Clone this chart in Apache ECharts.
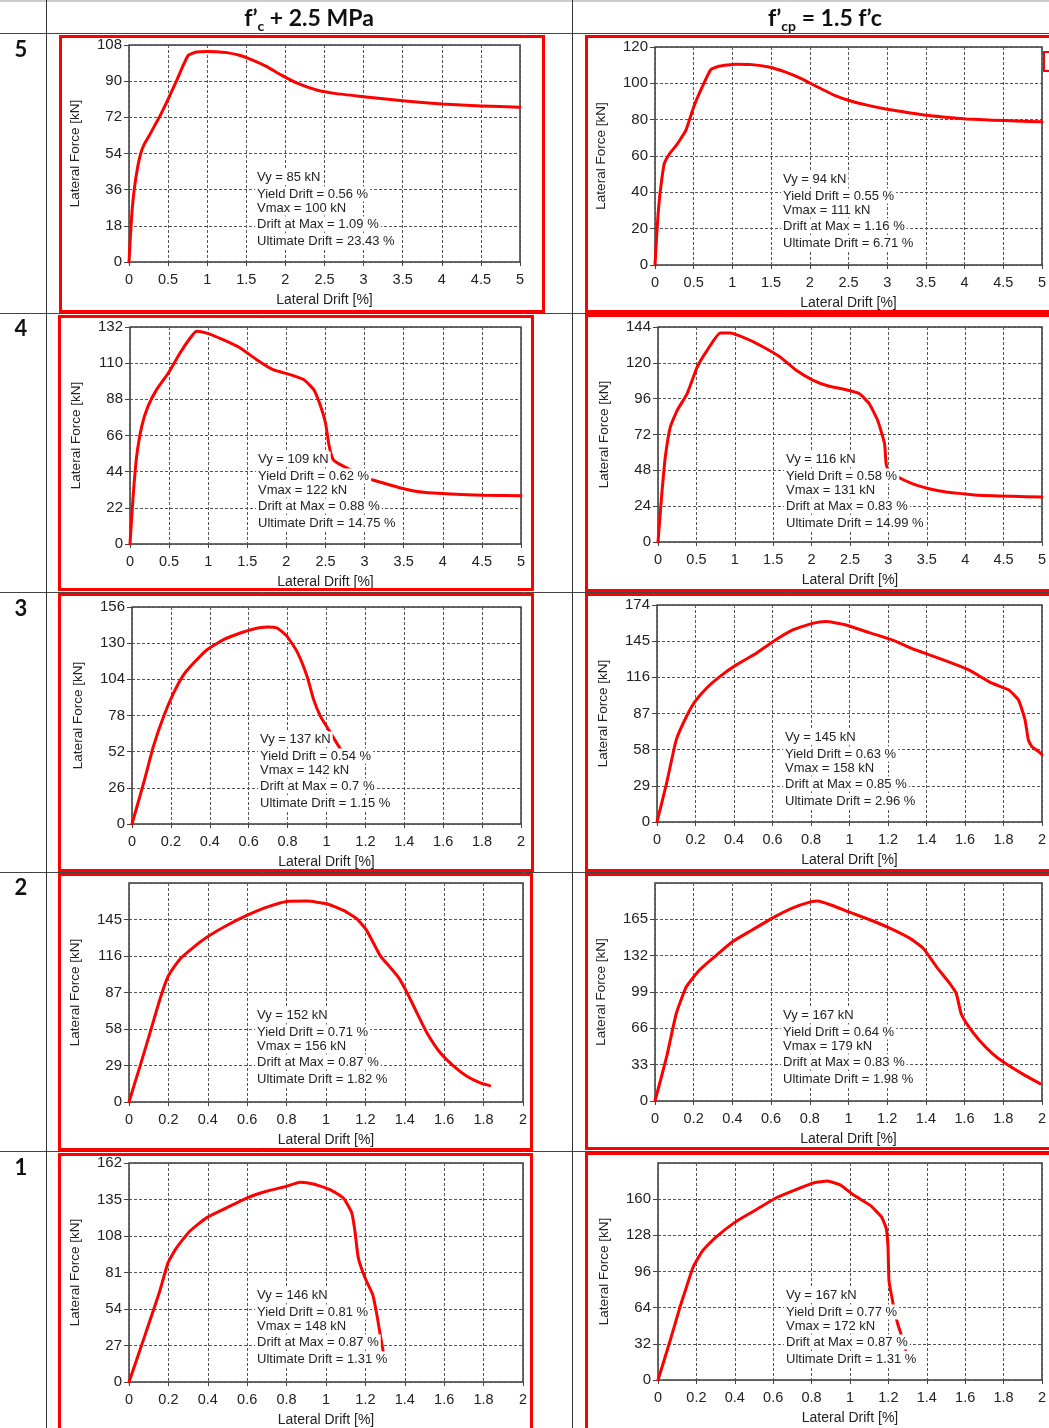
<!DOCTYPE html>
<html><head><meta charset="utf-8">
<script src="https://cdn.jsdelivr.net/npm/echarts@6.0.0/dist/echarts.min.js"></script>
<style>html,body{margin:0;padding:0;background:#fff}#c{width:1049px;height:1428px}</style>
</head><body><div id="c"></div>
<script>
// ---------- DATA ----------
const colTitles = ["f’c + 2.5 MPa", "f’cp = 1.5 f’c"];
const rowLabels = ["5", "4", "3", "2", "1"];

// Row 5
const drift5a = [0, 0.02, 0.04, 0.07, 0.11, 0.15, 0.2, 0.26, 0.33, 0.4, 0.5, 0.6, 0.7, 0.76, 0.86, 1.0, 1.12, 1.25, 1.4, 1.55, 1.75, 1.95, 2.15, 2.4, 2.65, 3.0, 3.5, 4.0, 4.5, 5.0];
const force5a = [0, 14, 26, 37, 47, 54, 59, 63, 68, 73, 81, 89.5, 98.5, 103, 104.5, 104.8, 104.7, 104.2, 103, 101, 97.5, 93, 89, 85.6, 83.8, 82.3, 80.2, 78.6, 77.7, 77];
const drift5b = [0, 0.02, 0.04, 0.06, 0.09, 0.12, 0.19, 0.26, 0.32, 0.4, 0.5, 0.61, 0.72, 0.83, 1.04, 1.25, 1.47, 1.68, 1.89, 2.1, 2.32, 2.53, 2.74, 3.0, 3.3, 3.51, 3.72, 4.02, 4.36, 4.66, 5.0];
const force5b = [0, 15, 28, 37.6, 48, 55.9, 61.4, 65, 68.7, 74.2, 87, 98, 107.5, 109.4, 110.5, 110.3, 109, 106.3, 102.6, 98, 93.4, 90.3, 88, 85.7, 83.7, 82.4, 81.5, 80.4, 79.7, 79.3, 78.8];
// Row 4
const drift4a = [0, 0.04, 0.085, 0.15, 0.23, 0.34, 0.49, 0.64, 0.77, 0.85, 0.98, 1.19, 1.41, 1.62, 1.83, 2.05, 2.22, 2.35, 2.43, 2.5, 2.54, 2.57, 2.6, 2.69, 2.85, 3.0, 3.07, 3.24, 3.46, 3.67, 3.88, 4.1, 4.52, 5.0];
const force4a = [0, 29, 53.3, 71.6, 83.7, 93.9, 104, 116.2, 125.3, 129.4, 128.3, 124.3, 119.2, 112.1, 106, 103, 100, 93.9, 84.8, 73.6, 61.4, 55, 51.3, 48.3, 44.5, 41.5, 39.5, 37.1, 34.1, 32, 31, 30.4, 29.6, 29.4];
const drift4b = [0, 0.05, 0.095, 0.16, 0.25, 0.38, 0.51, 0.64, 0.81, 0.94, 1.15, 1.37, 1.59, 1.8, 2.02, 2.23, 2.45, 2.62, 2.75, 2.86, 2.95, 2.97, 3.0, 3.08, 3.31, 3.53, 3.75, 3.96, 4.18, 4.61, 5.0];
const force4b = [0, 32.4, 56.9, 77, 88.2, 99.4, 117.2, 128.4, 140, 140, 136.2, 130.6, 123.9, 115, 108.3, 104.3, 102, 99.4, 92.7, 81.5, 65.9, 52.5, 48, 44.7, 39.1, 35.7, 33.5, 32.4, 31.3, 30.6, 30.1];
// Row 3
const drift3a = [0, 0.06, 0.11, 0.163, 0.214, 0.266, 0.317, 0.386, 0.471, 0.557, 0.626, 0.694, 0.746, 0.797, 0.848, 0.9, 0.934, 0.969, 1.011, 1.037, 1.063, 1.07];
const force3a = [0, 29.5, 55.8, 77.4, 94.2, 107.4, 115.7, 125.3, 132.5, 137.3, 140.2, 141.6, 140.9, 134.9, 124.1, 106.2, 89.4, 77.4, 67.8, 61.8, 55.8, 54.5];
const drift3b = [0, 0.05, 0.1, 0.153, 0.197, 0.257, 0.326, 0.412, 0.516, 0.602, 0.705, 0.809, 0.878, 0.981, 1.102, 1.222, 1.343, 1.464, 1.619, 1.74, 1.826, 1.878, 1.912, 1.929, 1.947, 1.981, 2.0];
const force3b = [0, 31.2, 65.9, 84.6, 96.6, 107.3, 116.6, 126, 135.3, 144.6, 154, 159.3, 160.7, 158, 151.9, 146, 138, 131.3, 122, 111.3, 106, 97.9, 81.9, 65.9, 60.6, 56.6, 54];
// Row 2
const drift2a = [0, 0.056, 0.107, 0.157, 0.2, 0.259, 0.327, 0.395, 0.496, 0.598, 0.7, 0.801, 0.903, 1.004, 1.089, 1.157, 1.207, 1.275, 1.326, 1.368, 1.411, 1.461, 1.512, 1.58, 1.648, 1.715, 1.783, 1.831];
const force2a = [0, 28.5, 55.1, 81.7, 100.3, 113.6, 122.9, 130.9, 140.2, 148.2, 154.8, 159.3, 159.6, 157.5, 152.2, 145.5, 136.2, 116.3, 106.9, 99, 87, 71, 55.1, 39.1, 28.5, 20.5, 15.2, 13];
const drift2b = [0, 0.06, 0.11, 0.162, 0.23, 0.298, 0.4, 0.502, 0.604, 0.706, 0.808, 0.842, 0.91, 1.012, 1.114, 1.216, 1.318, 1.387, 1.455, 1.523, 1.557, 1.582, 1.616, 1.676, 1.744, 1.812, 1.897, 1.99];
const force2b = [0, 40, 79.5, 103.7, 118.9, 129.5, 144.7, 155.3, 165.9, 175, 181.1, 181.7, 178, 171.1, 164.4, 156.8, 147.7, 138.6, 121.9, 106.8, 97.7, 79.5, 68.9, 55.2, 43.1, 34, 24.9, 15.8];
// Row 1
const drift1a = [0, 0.054, 0.105, 0.156, 0.198, 0.241, 0.308, 0.393, 0.495, 0.597, 0.698, 0.8, 0.868, 0.936, 1.02, 1.088, 1.131, 1.147, 1.164, 1.198, 1.237, 1.258, 1.275, 1.29];
const force1a = [0, 22.9, 45, 67.2, 88.1, 99.2, 111.5, 121.4, 128.8, 136.1, 141.1, 144.8, 147.7, 146.5, 142.3, 136.1, 125.1, 111.5, 91.8, 77.1, 64.7, 50, 35.2, 23];
const drift1b = [0, 0.063, 0.114, 0.148, 0.183, 0.234, 0.302, 0.404, 0.507, 0.609, 0.712, 0.814, 0.882, 0.951, 1.019, 1.104, 1.164, 1.189, 1.198, 1.203, 1.215, 1.232, 1.249, 1.266, 1.29];
const force1b = [0, 34.7, 64.3, 82.1, 99.9, 114.7, 126.5, 139.9, 150.2, 160.6, 168, 174.5, 176, 172.4, 163.6, 154.7, 144.3, 133.9, 117.6, 88, 76.1, 61.3, 49.5, 40.6, 27];

// Panel order: 5a,5b,4a,4b,3a,3b,2a,2b,1a,1b
const drifts = [drift5a, drift5b, drift4a, drift4b, drift3a, drift3b, drift2a, drift2b, drift1a, drift1b];
const forces = [force5a, force5b, force4a, force4b, force3a, force3b, force2a, force2b, force1a, force1b];

// Annotated results
const vy         = [85, 94, 109, 116, 137, 145, 152, 167, 146, 167];
const yieldDrift = [0.56, 0.55, 0.62, 0.58, 0.54, 0.63, 0.71, 0.64, 0.81, 0.77];
const vmax       = [100, 111, 122, 131, 142, 158, 156, 179, 148, 172];
const driftAtMax = [1.09, 1.16, 0.88, 0.83, 0.7, 0.85, 0.87, 0.83, 0.87, 0.87];
const ultDrift   = [23.43, 6.71, 14.75, 14.99, 1.15, 2.96, 1.82, 1.98, 1.31, 1.31];

// Axis scales (tick labels)
const yMax      = [108, 120, 132, 144, 156, 174, 174, 198, 162, 192];
const yStep     = [18, 20, 22, 24, 26, 29, 29, 33, 27, 32];
const yHideMax  = [false, false, false, false, false, false, true, true, false, true];
const xMax      = [5, 5, 5, 5, 2, 2, 2, 2, 2, 2];
const xStep     = [0.5, 0.5, 0.5, 0.5, 0.2, 0.2, 0.2, 0.2, 0.2, 0.2];

// ---------- LAYOUT (positions only) ----------
const plotBox = [
  [129, 45, 391, 217], [655, 47, 392, 218],
  [130, 327, 391, 217], [658, 327, 385, 215],
  [132, 607, 389, 217], [657, 605, 390, 217],
  [129, 883, 394, 219], [655, 883, 392, 218],
  [129, 1163, 394, 219], [658, 1163, 387, 217]
];
const redBox = [
  [59, 35, 545, 313], [585, 35, 1062, 313],
  [58, 315, 534, 591], [585, 314, 1062, 592],
  [58, 593, 534, 872], [585, 593, 1062, 872],
  [58, 873, 533, 1151], [585, 873, 1062, 1150],
  [58, 1153, 533, 1434], [585, 1152, 1062, 1434]
];
const noteDy = [132, 149, 163, 179, 196];

const FONT = '"Liberation Sans", Arial, sans-serif';
const grids = [], xAxes = [], yAxes = [], series = [], graphics = [];

// table lines
const tl = (x1, y1, x2, y2, c) => graphics.push({type: 'line', shape: {x1, y1, x2, y2}, style: {stroke: c || '#444', lineWidth: 1}, z: 1});
tl(0, 1, 1049, 1, '#999');
tl(0, 33.5, 1049, 33.5);
[313.5, 592.5, 872.5, 1151.5].forEach(y => tl(0, y, 1049, y));
tl(46.5, 0, 46.5, 1428, '#333');
tl(572.5, 0, 572.5, 1428, '#333');

// headers
const headerCenters = [309, 825];
const richTitles = ['{m|f’}{s|c}{m| + 2.5 MPa}', '{m|f’}{s|cp}{m| = 1.5 f’c}'];
richTitles.forEach((t, i) => graphics.push({
  type: 'text', z: 10,
  style: {
    text: t, x: headerCenters[i], y: 19, align: 'center', verticalAlign: 'middle',
    rich: {
      m: {fontSize: 23, fontWeight: 'bold', fontFamily: 'Lato, "Open Sans", sans-serif', fill: '#111', lineHeight: 28},
      s: {fontSize: 14, fontWeight: 'bold', fontFamily: 'Lato, "Open Sans", sans-serif', fill: '#111', lineHeight: 12, verticalAlign: 'bottom'}
    }
  }
}));
// row labels
const rowY = [50, 329, 609, 888, 1168];
rowLabels.forEach((r, i) => graphics.push({
  type: 'text', z: 10,
  style: {text: r, x: 21, y: rowY[i], align: 'center', verticalAlign: 'middle',
          font: 'bold 22px Lato, "Open Sans", sans-serif', fill: '#111'}
}));

for (let i = 0; i < 10; i++) {
  const [l, t, w, h] = plotBox[i];
  grids.push({left: l, top: t, width: w, height: h, show: true, borderColor: '#3a3a3a', borderWidth: 1.5, backgroundColor: '#fff', containLabel: false});
  xAxes.push({
    gridIndex: i, type: 'value', min: 0, max: xMax[i], interval: xStep[i],
    axisLine: {show: false},
    axisTick: {show: true, length: 4, lineStyle: {color: '#444'}},
    axisLabel: {fontSize: 14.5, color: '#222', fontFamily: FONT, margin: 10},
    splitLine: {show: true, lineStyle: {color: '#555', type: [3, 2], width: 1}},
    name: 'Lateral Drift [%]', nameLocation: 'middle', nameGap: 31,
    nameTextStyle: {fontSize: 14, color: '#222', fontFamily: FONT}
  });
  yAxes.push({
    gridIndex: i, type: 'value', min: 0, max: yMax[i], interval: yStep[i],
    axisLine: {show: false},
    axisTick: {show: true, length: 5, lineStyle: {color: '#444'}},
    axisLabel: {fontSize: 15, color: '#222', fontFamily: FONT, margin: 7, showMaxLabel: !yHideMax[i]},
    splitLine: {show: true, lineStyle: {color: '#555', type: [3, 2], width: 1}},
    name: 'Lateral Force [kN]', nameLocation: 'middle', nameGap: 47, nameRotate: 90,
    nameTextStyle: {fontSize: 13.5, color: '#222', fontFamily: FONT}
  });
  series.push({
    type: 'line', xAxisIndex: i, yAxisIndex: i,
    data: drifts[i].map((d, k) => [d, forces[i][k]]),
    showSymbol: false, smooth: 0.15,
    lineStyle: {color: '#ff0000', width: 3, join: 'round', cap: 'round'}, z: 3, silent: true
  });
  // annotation
  const lines = [
    'Vy = ' + vy[i] + ' kN',
    'Yield Drift = ' + yieldDrift[i] + ' %',
    'Vmax = ' + vmax[i] + ' kN',
    'Drift at Max = ' + driftAtMax[i] + ' %',
    'Ultimate Drift = ' + ultDrift[i] + ' %'
  ];
  lines.forEach((s, k) => graphics.push({
    type: 'text', z: 50,
    style: {text: s, x: l + 126, y: t + noteDy[k], align: 'left', verticalAlign: 'middle',
            font: '13px ' + FONT, fill: '#222', backgroundColor: '#fff', padding: [1, 2]}
  }));
  // red frame
  const [x1, y1, x2, y2] = redBox[i];
  graphics.push({type: 'rect', z: 20, shape: {x: x1 + 1.5, y: y1 + 1.5, width: x2 - x1 - 3, height: y2 - y1 - 3},
                 style: {fill: 'none', stroke: '#ff0000', lineWidth: 3}});
}
// partial red box at top right
graphics.push({type: 'rect', z: 20, shape: {x: 1044, y: 52, width: 30, height: 19}, style: {fill: 'none', stroke: '#ff0000', lineWidth: 2}});

const chart = echarts.init(document.getElementById('c'), null, {renderer: 'canvas'});
chart.setOption({
  animation: false,
  backgroundColor: '#fff',
  grid: grids, xAxis: xAxes, yAxis: yAxes, series: series,
  graphic: {elements: graphics}
});
</script></body></html>
